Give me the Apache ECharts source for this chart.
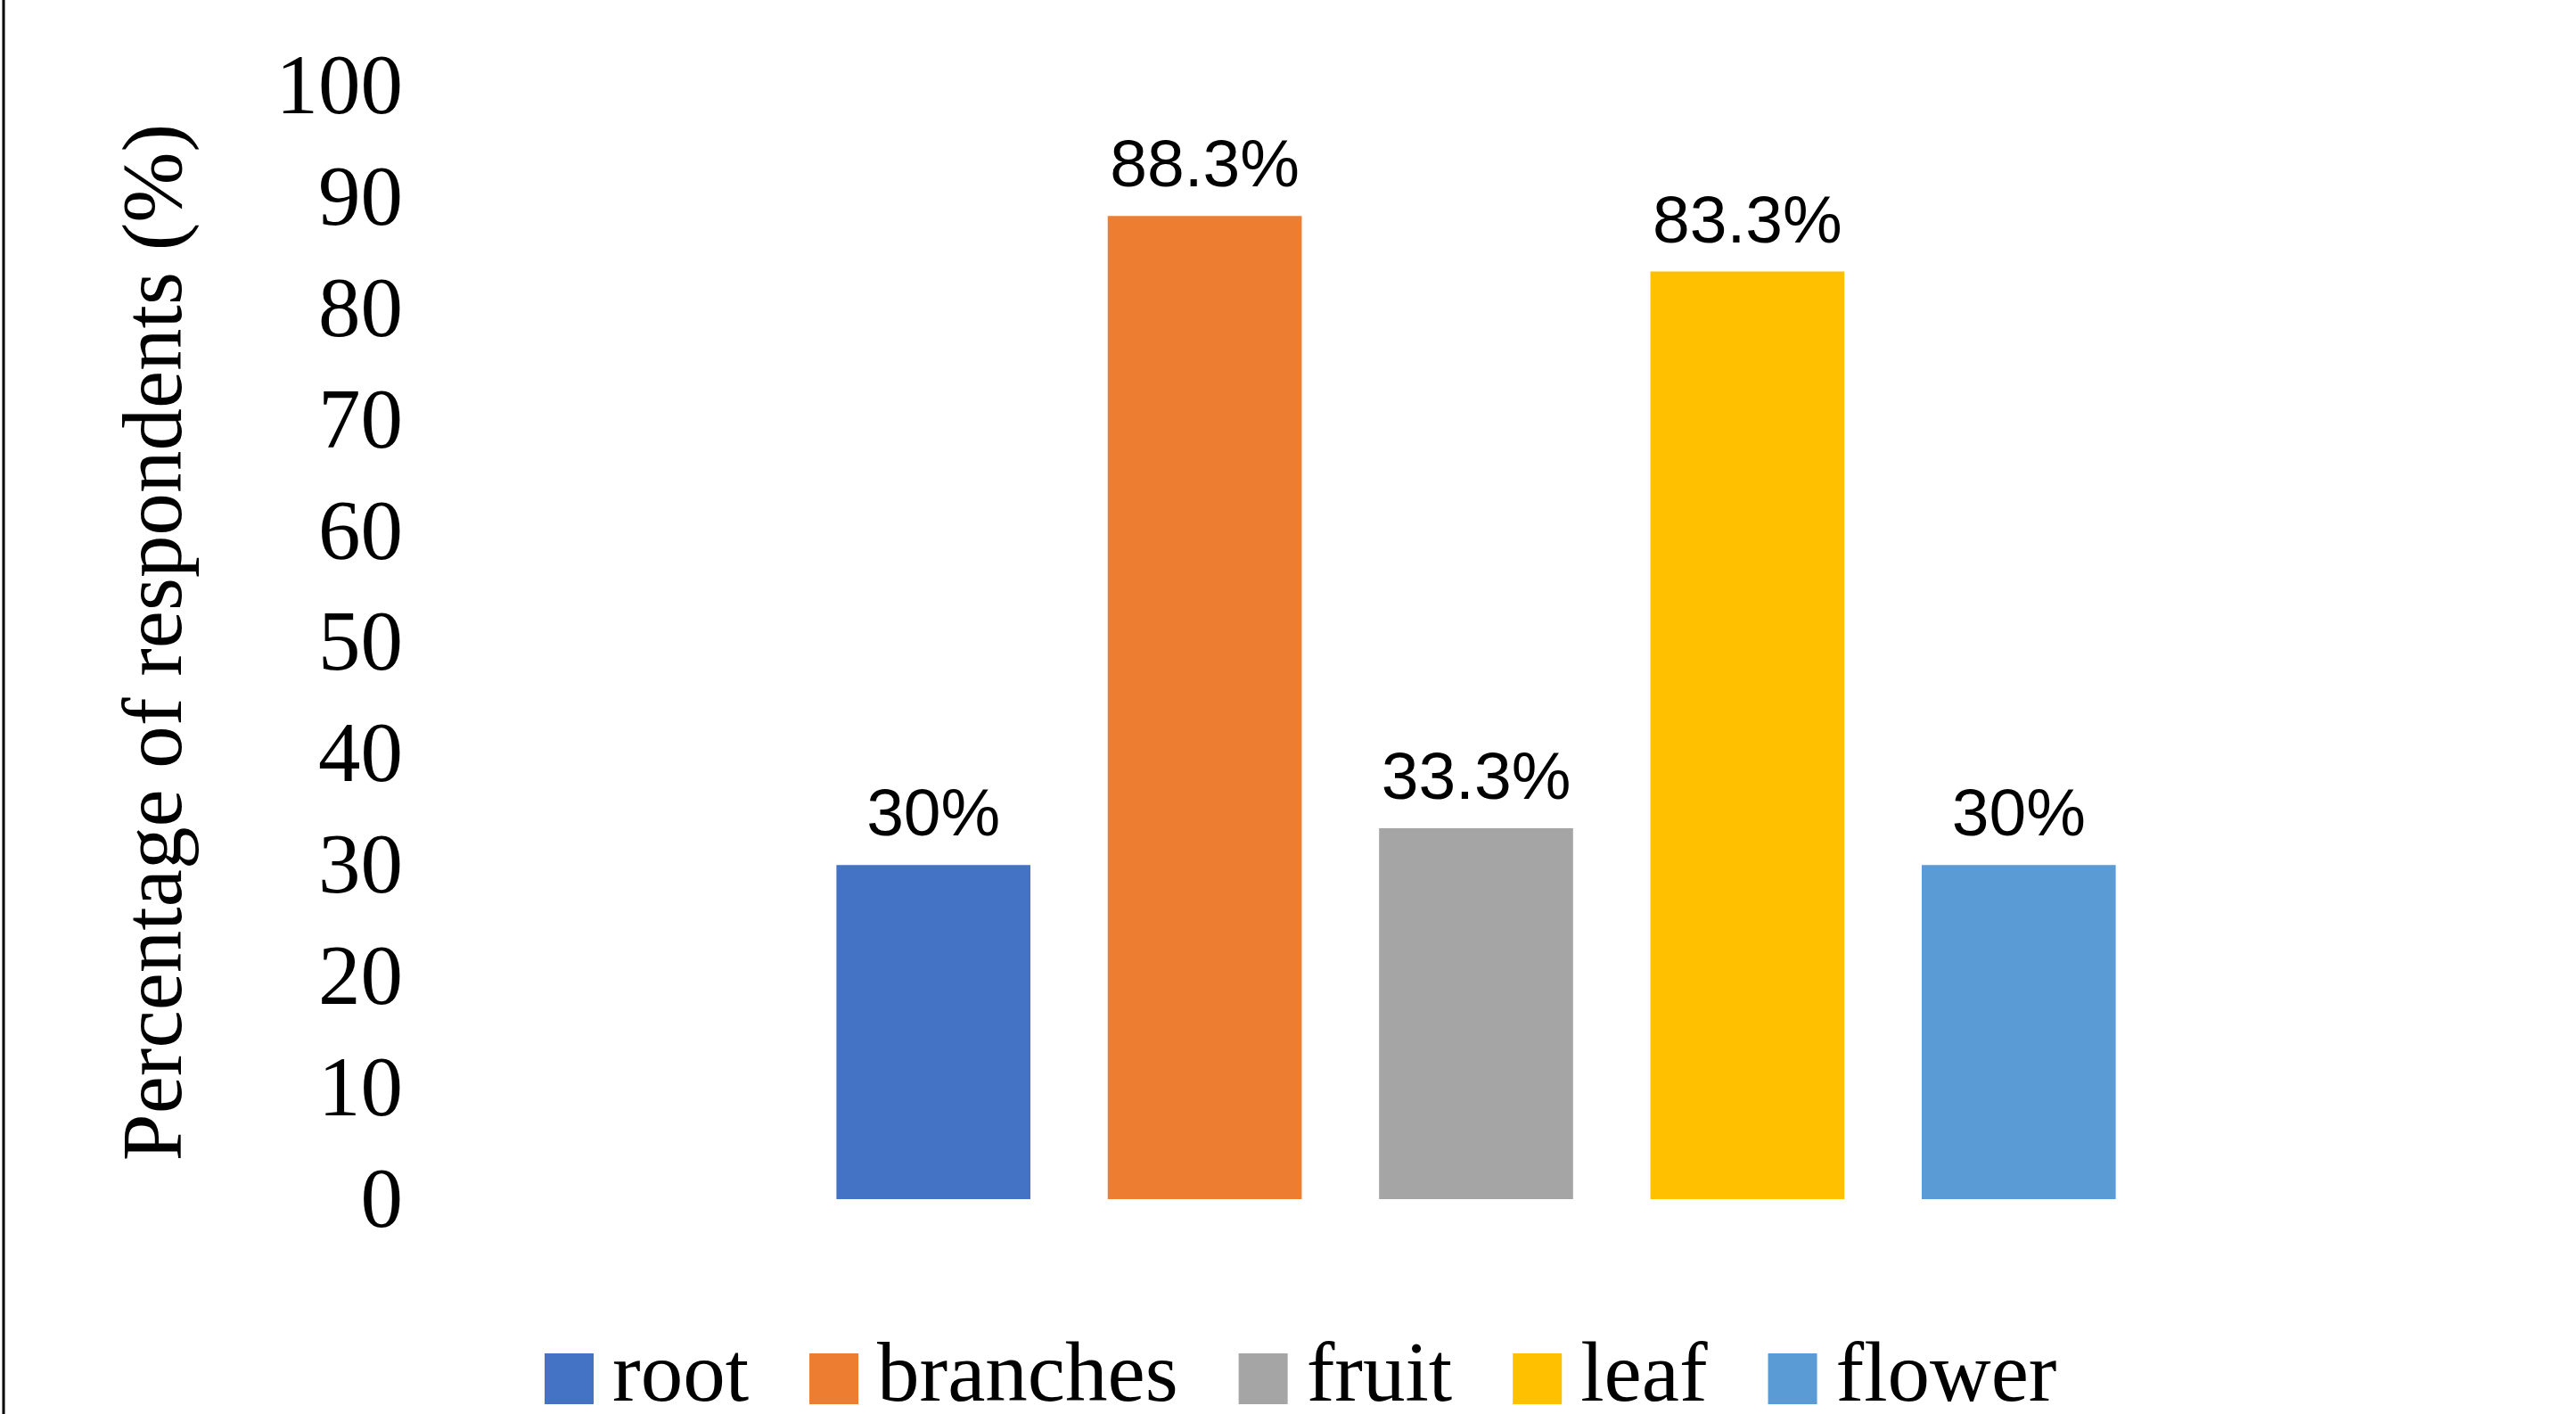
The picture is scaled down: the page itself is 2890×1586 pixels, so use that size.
<!DOCTYPE html>
<html>
<head>
<meta charset="utf-8">
<title>Percentage of respondents</title>
<script src="https://cdn.jsdelivr.net/npm/echarts@6/dist/echarts.min.js"></script>
<style>
  html, body { margin: 0; padding: 0; background: #fff; }
  #chart { width: 2890px; height: 1586px; }
</style>
</head>
<body>
<div id="chart"></div>
<script>
// plant parts used, % of respondents
var parts = ['root', 'branches', 'fruit', 'leaf', 'flower'];
var percents = [30, 88.3, 33.3, 83.3, 30];
var colors = ['#4472C4', '#ED7D31', '#A5A5A5', '#FFC000', '#5B9BD5'];
var yTicks = [0, 10, 20, 30, 40, 50, 60, 70, 80, 90, 100];

var serif = '"Liberation Serif", "DejaVu Serif", serif';
var sans = '"Liberation Sans", Arial, sans-serif';

// one series per part so every part gets its own legend entry;
// stacking keeps each bar centred on its category
var series = parts.map(function (name, i) {
    var data = parts.map(function (p, j) { return j === i ? percents[i] : null; });
    return {
        name: name,
        type: 'bar',
        stack: 'all',
        barWidth: '71.5%',
        itemStyle: { color: colors[i] },
        label: {
            show: true,
            position: 'top',
            distance: 16,
            fontFamily: sans,
            fontSize: 75,
            color: '#000',
            formatter: function (p) { return p.value + '%'; }
        },
        data: data
    };
});

var chart = echarts.init(document.getElementById('chart'));
chart.setOption({
    animation: false,
    backgroundColor: '#fff',
    grid: { left: 895, right: 473, top: 96, bottom: 241 },
    legend: {
        left: 606,
        top: 1494,
        data: parts,
        itemWidth: 55,
        itemHeight: 57,
        itemGap: 68,
        icon: 'rect',
        textStyle: { fontFamily: serif, fontSize: 95, color: '#000', padding: [0, 0, 0, 16] }
    },
    xAxis: {
        type: 'category',
        data: parts,
        axisLine: { show: false },
        axisTick: { show: false },
        axisLabel: { show: false }
    },
    yAxis: {
        type: 'value',
        min: yTicks[0],
        max: yTicks[yTicks.length - 1],
        interval: 10,
        name: 'Percentage of respondents (%)',
        nameLocation: 'middle',
        nameGap: 669,
        nameTextStyle: { fontFamily: serif, fontSize: 95, color: '#000' },
        axisLine: { show: false },
        axisTick: { show: false },
        splitLine: { show: false },
        axisLabel: {
            margin: 443,
            verticalAlign: 'top',
            lineHeight: 12,
            fontFamily: serif,
            fontSize: 95,
            color: '#000'
        }
    },
    graphic: [{
        type: 'line',
        shape: { x1: 4, y1: 0, x2: 4, y2: 1586 },
        style: { stroke: '#000', lineWidth: 3 }
    }],
    series: series
});
</script>
</body>
</html>
